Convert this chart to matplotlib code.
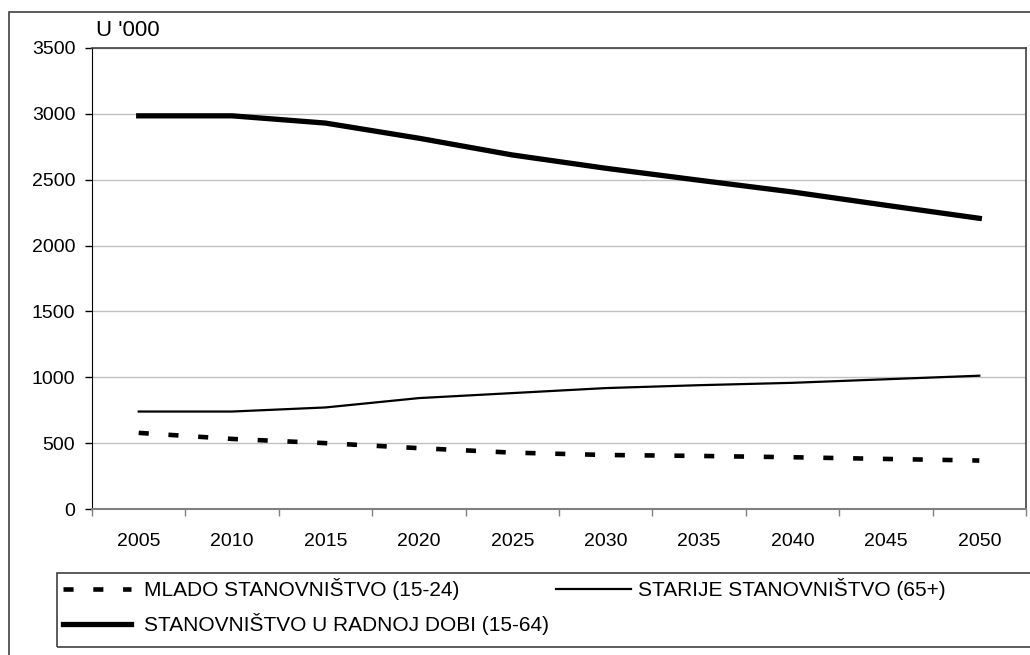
import matplotlib
matplotlib.use("Agg")
import matplotlib.pyplot as plt
from matplotlib.patches import Rectangle
from matplotlib.lines import Line2D

years = ["2005", "2010", "2015", "2020", "2025", "2030", "2035", "2040", "2045", "2050"]
mlado = [578, 532, 500, 462, 428, 410, 403, 393, 380, 368]
starije = [740, 740, 771, 842, 880, 918, 940, 958, 985, 1012]
radna = [2985, 2985, 2930, 2815, 2688, 2587, 2496, 2407, 2306, 2207]
labels = ["MLADO STANOVNIŠTVO (15-24)", "STARIJE STANOVNIŠTVO (65+)",
          "STANOVNIŠTVO U RADNOJ DOBI (15-64)"]
yticks = [0, 500, 1000, 1500, 2000, 2500, 3000, 3500]

plt.rcParams['font.family'] = ['Liberation Sans', 'DejaVu Sans']
plt.rcParams['font.size'] = 14

W, H = 1030, 655
fig = plt.figure(figsize=(W / 100, H / 100), dpi=100)
ax = fig.add_axes([92 / W, (H - 509) / H, (1026 - 92) / W, (509 - 48) / H])

x = list(range(len(years)))
l1, = ax.plot(x, mlado, color='black', lw=3.3, dashes=(2.2, 4.3), solid_capstyle='butt')
l2, = ax.plot(x, starije, color='black', lw=1.6)
l3, = ax.plot(x, radna, color='black', lw=3.8)

ax.set_xlim(-0.5, len(years) - 0.5)
ax.set_ylim(0, 3500)
ax.set_yticks(yticks)
ax.set_yticklabels([str(v) for v in yticks], fontsize=14)
ax.set_xticks(x)
ax.set_xticklabels(years, fontsize=14)
ax.set_xticks([i - 0.5 for i in range(len(years) + 1)], minor=True)
ax.tick_params(axis='x', which='major', length=0, pad=17)
ax.tick_params(axis='x', which='minor', length=5, color='#808080', width=1)
ax.tick_params(axis='y', length=5, color='black', width=1, pad=7)
ax.grid(axis='y', color='#c0c0c0', lw=1)
ax.set_axisbelow(True)
for s in ['top', 'right']:
    ax.spines[s].set_color('#404040')
    ax.spines[s].set_linewidth(1.2)
ax.spines['left'].set_color('black')
ax.spines['bottom'].set_color('#808080')
ax.spines['bottom'].set_linewidth(1.5)

fig.text(96 / W, 1 - 31 / H, "U '000", ha='left', va='center', fontsize=16)

# outer chart border
fig.patches.append(Rectangle((9 / W, -0.1), 1.2, 1 - 12 / H + 0.1, transform=fig.transFigure,
                             fill=False, edgecolor='#404040', lw=1.2, clip_on=False))
# legend box
fig.patches.append(Rectangle((57 / W, 1 - 647 / H), 1.2, (647 - 573) / H, transform=fig.transFigure,
                             fill=False, edgecolor='#404040', lw=1.2, clip_on=False))

h1 = Line2D([], [], color='black', lw=3.3, dashes=(2.2, 4.3))
h2 = Line2D([], [], color='black', lw=1.6)
h3 = Line2D([], [], color='black', lw=3.8)
fig.legend([h1, h3], [labels[0], labels[2]], loc='upper left', frameon=False,
           bbox_to_anchor=(63 / W, 1 - 578 / H), handlelength=3.27, handletextpad=0.63,
           labelspacing=0.62, borderpad=0, borderaxespad=0, fontsize=15)
fig.legend([h2], [labels[1]], loc='upper left', frameon=False,
           bbox_to_anchor=(556 / W, 1 - 578 / H), handlelength=3.6, handletextpad=0.34,
           borderpad=0, borderaxespad=0, fontsize=15)

fig.savefig("out.png", dpi=100)
